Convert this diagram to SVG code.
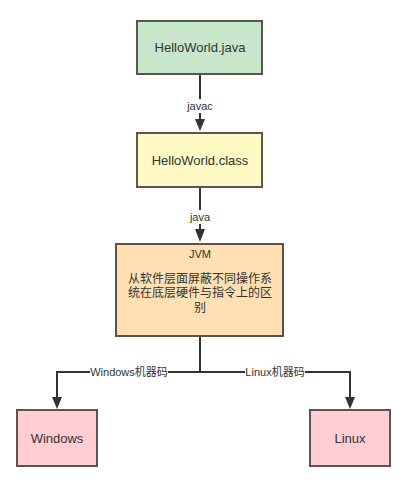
<svg xmlns="http://www.w3.org/2000/svg" width="404" height="485" viewBox="0 0 404 485">
<defs>
<style>
text{font-family:"Liberation Sans","Noto Sans CJK SC",sans-serif;fill:#333333;text-anchor:middle}
.node{font-size:13px}
.cn{font-size:12px}
.lbl{font-size:11px}
.edge{fill:none;stroke:#333333;stroke-width:2}
.head{fill:#333333}
.lb{fill:#ffffff}
</style>
</defs>
<rect width="404" height="485" fill="#ffffff"/>
<g id="connectors">
<path class="edge" d="M200,75 V120"/>
<path class="head" d="M195,119 L205,119 L200,131 Z"/>
<path class="edge" d="M200,188 V230"/>
<path class="head" d="M195,229 L205,229 L200,242 Z"/>
<path class="edge" d="M200,337 V372 H57 V398"/>
<path class="head" d="M52,397 L62,397 L57,409 Z"/>
<path class="edge" d="M200,372 H350 V398"/>
<path class="head" d="M345,397 L355,397 L350,409 Z"/>
<rect class="lb" x="184" y="99" width="32" height="14"/>
<text class="lbl" x="200" y="110">javac</text>
<rect class="lb" x="186" y="210" width="28" height="14"/>
<text class="lbl" x="200" y="221">java</text>
<rect class="lb" x="90" y="365" width="78" height="14"/>
<text class="lbl" x="129" y="376">Windows机器码</text>
<rect class="lb" x="245" y="365" width="60" height="14"/>
<text class="lbl" x="275" y="376">Linux机器码</text>
</g>
<g id="helloworld-java">
<rect x="137" y="21" width="125" height="53" fill="#c8e6c9" stroke="#525a50" stroke-width="2"/>
<text class="node" x="200" y="52">HelloWorld.java</text>
</g>
<g id="helloworld-class">
<rect x="137" y="133" width="125" height="54" fill="#fff9c4" stroke="#5a5a4a" stroke-width="2"/>
<text class="node" x="200" y="165">HelloWorld.class</text>
</g>
<g id="jvm">
<rect x="116" y="244" width="167" height="92" fill="#ffe0b2" stroke="#5f5244" stroke-width="2"/>
<text class="lbl" x="200" y="258">JVM</text>
<text class="cn" x="200" y="283">从软件层面屏蔽不同操作系</text>
<text class="cn" x="200" y="297">统在底层硬件与指令上的区</text>
<text class="cn" x="200" y="312">别</text>
</g>
<g id="windows">
<rect x="17" y="410" width="80" height="56" fill="#ffcdd2" stroke="#5f5252" stroke-width="2"/>
<text class="node" x="57" y="443">Windows</text>
</g>
<g id="linux">
<rect x="310" y="410" width="80" height="56" fill="#ffcdd2" stroke="#5f5252" stroke-width="2"/>
<text class="node" x="350" y="443">Linux</text>
</g>
</svg>
